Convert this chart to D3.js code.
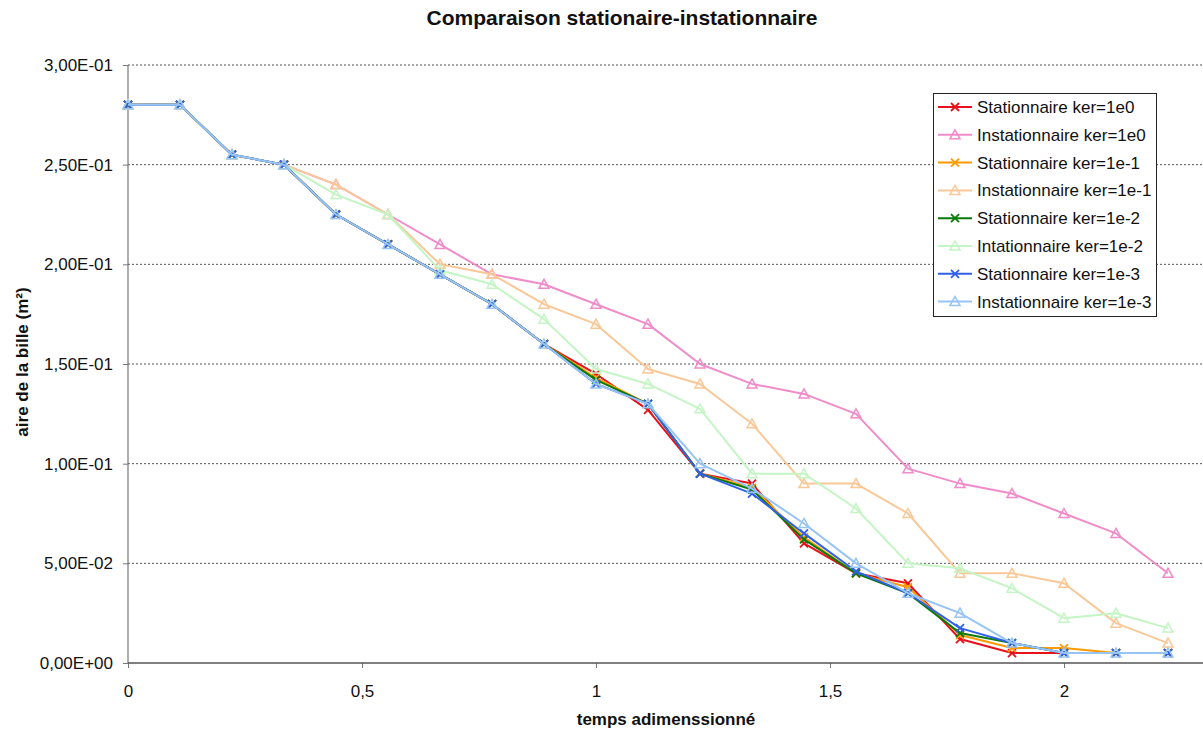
<!DOCTYPE html>
<html><head><meta charset="utf-8">
<script src="https://cdn.jsdelivr.net/npm/d3@7"></script>
<style>
body{margin:0;background:#fff;}
text{font-family:"Liberation Sans",Arial,sans-serif;}
</style></head><body>
<svg id="c" width="1203" height="731"></svg>
<script>
const xs = d3.range(21).map(i => i / 9);
const common = [0.28, 0.28, 0.255, 0.25];
const statCommon = [0.225, 0.21, 0.195, 0.18, 0.16];

const stat1e0  = [...common, ...statCommon, 0.145, 0.127, 0.095, 0.09, 0.06, 0.045, 0.04, 0.012, 0.005, 0.005, 0.005, 0.005];
const inst1e0  = [...common, 0.24, 0.225, 0.21, 0.195, 0.19, 0.18, 0.17, 0.15, 0.14, 0.135, 0.125, 0.0975, 0.09, 0.085, 0.075, 0.065, 0.045];
const stat1e1  = [...common, ...statCommon, 0.143, 0.13, 0.095, 0.088, 0.063, 0.045, 0.038, 0.014, 0.0075, 0.0075, 0.005, 0.005];
const inst1e1  = [...common, 0.24, 0.225, 0.2, 0.195, 0.18, 0.17, 0.1475, 0.14, 0.12, 0.09, 0.09, 0.075, 0.045, 0.045, 0.04, 0.02, 0.01];
const stat1e2  = [...common, ...statCommon, 0.142, 0.13, 0.095, 0.087, 0.062, 0.045, 0.035, 0.015, 0.01, 0.005, 0.005, 0.005];
const inst1e2  = [...common, 0.235, 0.225, 0.197, 0.19, 0.1725, 0.1475, 0.14, 0.1275, 0.095, 0.095, 0.0775, 0.05, 0.0475, 0.0375, 0.0225, 0.025, 0.0175];
const stat1e3  = [...common, ...statCommon, 0.14, 0.13, 0.095, 0.085, 0.065, 0.046, 0.035, 0.0175, 0.01, 0.005, 0.005, 0.005];
const inst1e3  = [...common, ...statCommon, 0.14, 0.13, 0.1, 0.0875, 0.07, 0.05, 0.035, 0.025, 0.01, 0.005, 0.005, 0.005];

const seriesNames = ["Stationnaire ker=1e0","Instationnaire ker=1e0","Stationnaire ker=1e-1","Instationnaire ker=1e-1",
  "Stationnaire ker=1e-2","Intationnaire ker=1e-2","Stationnaire ker=1e-3","Instationnaire ker=1e-3"];
const seriesValues = [stat1e0, inst1e0, stat1e1, inst1e1, stat1e2, inst1e2, stat1e3, inst1e3];
const seriesColors = ["#e8101a","#f08cc8","#ff9a00","#fac898","#0a7a0a","#c4f5c4","#3060e8","#96c4f4"];
const seriesMarkers = ["x","tri","x","tri","x","tri","x","tri"];

const xTicks = [0, 0.5, 1, 1.5, 2];
const xTickLabels = ["0","0,5","1","1,5","2"];
const yTicks = [0, 0.05, 0.1, 0.15, 0.2, 0.25, 0.3];
const yTickLabels = ["0,00E+00","5,00E-02","1,00E-01","1,50E-01","2,00E-01","2,50E-01","3,00E-01"];

const svg = d3.select("#c");
const L = 128, R = 1203, T = 65, B = 663;
const x = d3.scaleLinear().domain([0, 2]).range([L, 1064]);
const y = d3.scaleLinear().domain([0, 0.3]).range([B, T]);

// grid
svg.append("g").selectAll("line").data(yTicks.filter(d => d > 0)).join("line")
  .attr("x1", L).attr("x2", R).attr("y1", d => y(d)).attr("y2", d => y(d))
  .attr("stroke", "#555").attr("stroke-width", 1).attr("stroke-dasharray", "2,2");

// y axis
const yAxis = d3.axisLeft(y).tickValues(yTicks).tickFormat((d, i) => yTickLabels[i]).tickSize(5).tickPadding(10);
const gy = svg.append("g").attr("transform", `translate(${L},0)`).call(yAxis);
gy.select(".domain").remove();
gy.selectAll("line").attr("stroke", "#777");
gy.selectAll("text").attr("font-size", 17).attr("fill", "#111");
svg.append("line").attr("x1", L).attr("x2", L).attr("y1", T).attr("y2", B).attr("stroke", "#777").attr("stroke-width", 1.2);

// x axis
const xAxis = d3.axisBottom(x).tickValues(xTicks).tickFormat((d, i) => xTickLabels[i]).tickSize(5).tickPadding(17);
const gx = svg.append("g").attr("transform", `translate(0,${B})`).call(xAxis);
gx.select(".domain").remove();
gx.selectAll("line").attr("stroke", "#777");
gx.selectAll("text").attr("font-size", 17).attr("fill", "#111");
svg.append("line").attr("x1", L).attr("x2", R).attr("y1", B).attr("y2", B).attr("stroke", "#555").attr("stroke-width", 1.5);

// series
const line = d3.line().x((d, i) => x(xs[i])).y(d => y(d));
function drawMarker(g, type, color, cx, cy) {
  if (type === "x") {
    const s = 4;
    g.append("path").attr("d", `M${cx-s},${cy-s}L${cx+s},${cy+s}M${cx-s},${cy+s}L${cx+s},${cy-s}`)
      .attr("stroke", color).attr("stroke-width", 1.8).attr("fill", "none");
  } else {
    const s = 5;
    g.append("path").attr("d", `M${cx},${cy-s}L${cx+s},${cy+s-1}L${cx-s},${cy+s-1}Z`)
      .attr("stroke", color).attr("stroke-width", 1.5).attr("fill", "none");
  }
}
seriesValues.forEach((vals, k) => {
  const g = svg.append("g");
  g.append("path").datum(vals).attr("d", line).attr("fill", "none")
    .attr("stroke", seriesColors[k]).attr("stroke-width", 2).attr("stroke-linejoin", "round");
  vals.forEach((v, i) => drawMarker(g, seriesMarkers[k], seriesColors[k], x(xs[i]), y(v)));
});

// legend
const lg = svg.append("g");
lg.append("rect").attr("x", 933.5).attr("y", 93.5).attr("width", 223).attr("height", 223)
  .attr("fill", "#fff").attr("stroke", "#222").attr("stroke-width", 1);
seriesNames.forEach((n, k) => {
  const yy = 107 + k * 27.8;
  lg.append("line").attr("x1", 938).attr("x2", 972).attr("y1", yy).attr("y2", yy)
    .attr("stroke", seriesColors[k]).attr("stroke-width", 2);
  drawMarker(lg, seriesMarkers[k], seriesColors[k], 955, yy);
  lg.append("text").attr("x", 977).attr("y", yy + 6).attr("font-size", 17).attr("fill", "#111").text(n);
});

// titles
svg.append("text").attr("x", 622).attr("y", 25).attr("text-anchor", "middle").attr("font-size", 21)
  .attr("font-weight", "bold").attr("fill", "#111").text("Comparaison stationaire-instationnaire");
svg.append("text").attr("x", 666).attr("y", 725).attr("text-anchor", "middle").attr("font-size", 17)
  .attr("font-weight", "bold").attr("fill", "#111").text("temps adimenssionné");
svg.append("text").attr("transform", "translate(28,362) rotate(-90)").attr("text-anchor", "middle")
  .attr("font-size", 17).attr("font-weight", "bold").attr("fill", "#111").text("aire de la bille (m²)");
</script>
</body></html>
